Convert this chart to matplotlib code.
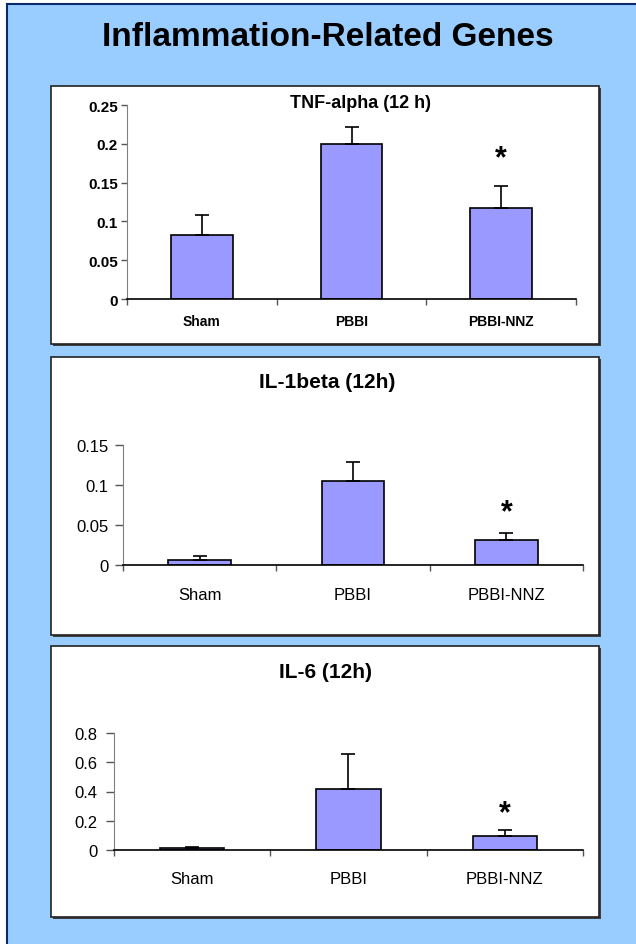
import matplotlib.pyplot as plt
from matplotlib.patches import Rectangle
from matplotlib.lines import Line2D

# ------------------------------
# data
# ------------------------------
groups = ["Sham", "PBBI", "PBBI-NNZ"]

tnf_mean = [0.083, 0.200, 0.117]
tnf_err = [0.025, 0.022, 0.028]
tnf_ticks = [0, 0.05, 0.1, 0.15, 0.2, 0.25]

il1b_mean = [0.0065, 0.105, 0.031]
il1b_err = [0.0045, 0.024, 0.009]
il1b_ticks = [0, 0.05, 0.1, 0.15]

il6_mean = [0.013, 0.414, 0.098]
il6_err = [0.010, 0.243, 0.036]
il6_ticks = [0, 0.2, 0.4, 0.6, 0.8]

# star (significance) heights
star_y = [0.181, 0.066, 0.25]

plt.rcParams['font.family'] = ['Liberation Sans', 'DejaVu Sans']

W, H = 636, 945
fig = plt.figure(figsize=(W / 100, H / 100), dpi=100)
fig.patch.set_facecolor("white")


def fx(x):
    return x / W


def fy(y):
    return 1 - y / H


# blue background with navy top/left edge
fig.patches.append(Rectangle((fx(7), -0.01), 1.1 - fx(7), fy(5) + 0.01, transform=fig.transFigure,
                             facecolor="#99CCFF", edgecolor="none", zorder=-3))
fig.lines.append(Line2D([fx(7), fx(7)], [0, fy(5)], transform=fig.transFigure,
                        color="#0B2A6B", lw=1.5, zorder=-2))
fig.lines.append(Line2D([fx(7), 1.05], [fy(5), fy(5)], transform=fig.transFigure,
                        color="#0B2A6B", lw=1.5, zorder=-2))

fig.text(fx(328), fy(37), "Inflammation-Related Genes", ha="center", va="center",
         fontsize=24, fontweight="bold")


def panel_box(top, bottom, left=51, right=599):
    # shadow then white box
    fig.patches.append(Rectangle((fx(left + 2), fy(bottom + 2)), fx(right - left), (bottom - top) / H,
                                 transform=fig.transFigure, facecolor="#404040",
                                 edgecolor="none", zorder=-2))
    fig.patches.append(Rectangle((fx(left), fy(bottom)), fx(right - left), (bottom - top) / H,
                                 transform=fig.transFigure, facecolor="white",
                                 edgecolor="#222222", lw=1.2, zorder=-1))


def draw_panel(left, right, top, bottom, means, errs, ticks, ticklabels, title, title_xy,
               star, bold, fs, yfs, ypad, xpad, ytick_len):
    ax = fig.add_axes([fx(left), fy(bottom), (right - left) / W, (bottom - top) / H])
    ax.set_zorder(5)
    ax.set_facecolor("none")
    x = list(range(len(groups)))
    ax.bar(x, means, width=0.41, color="#9999FF", edgecolor="black", lw=1.2, zorder=2)
    ax.errorbar(x, means, yerr=[[0] * len(errs), errs], fmt="none", ecolor="black",
                elinewidth=1.2, capsize=5, capthick=1.2, zorder=3)
    ax.set_xlim(-0.5, 2.5)
    ax.set_ylim(0, ticks[-1])
    ax.set_yticks(ticks)
    weight = "bold" if bold else "normal"
    ax.set_yticklabels(ticklabels, fontsize=yfs, fontweight=weight)
    ax.set_xticks(x)
    ax.set_xticklabels(groups, fontsize=fs, fontweight=weight)
    ax.set_xticks([-0.5, 0.5, 1.5, 2.5], minor=True)
    ax.tick_params(axis="x", which="major", length=0, pad=xpad)
    ax.tick_params(axis="x", which="minor", length=4.5, width=1, color="#555555", direction="out")
    ax.tick_params(axis="y", length=ytick_len, width=1, color="#555555", direction="out", pad=ypad)
    for s in ["top", "right"]:
        ax.spines[s].set_visible(False)
    ax.spines["left"].set_color("#808080")
    ax.spines["bottom"].set_color("black")
    ax.spines["bottom"].set_linewidth(1.2)
    ax.text(2, star, "*", ha="center", va="center", fontsize=22, fontweight="bold")
    fig.text(fx(title_xy[0]), fy(title_xy[1]), title, ha="center", va="center",
             fontsize=13 if bold else 15, fontweight="bold")
    return ax


panel_box(87, 345)
panel_box(358, 636)
panel_box(647, 918)

draw_panel(127, 576, 106, 300, tnf_mean, tnf_err, tnf_ticks,
           ["0", "0.05", "0.1", "0.15", "0.2", "0.25"], "TNF-alpha (12 h)", (361, 104),
           star_y[0], True, 10, 11, 2.5, 10.5, 4)
draw_panel(123, 583, 446, 566, il1b_mean, il1b_err, il1b_ticks,
           ["0", "0.05", "0.1", "0.15"], "IL-1beta (12h)", (327, 383),
           star_y[1], False, 12, 12, 5, 16, 5.5)
draw_panel(114, 583, 734, 851, il6_mean, il6_err, il6_ticks,
           ["0", "0.2", "0.4", "0.6", "0.8"], "IL-6 (12h)", (325, 672),
           star_y[2], False, 12, 12, 6, 15, 6)

fig.savefig("out.png", dpi=100)
